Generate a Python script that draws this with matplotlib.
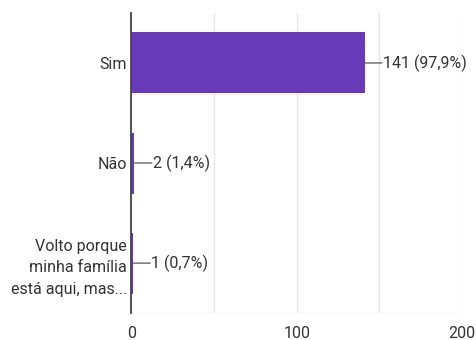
import matplotlib.pyplot as plt
from matplotlib.ticker import MultipleLocator

plt.rcParams['font.family'] = ['Roboto', 'DejaVu Sans']

### === Data ===
categories = ["Sim", "Não", "Volto porque\nminha família\nestá aqui, mas..."]
counts = [141, 2, 1]
labels = ["141 (97,9%)", "2 (1,4%)", "1 (0,7%)"]

bar_color = "#673ab7"
text_color = "#333333"

### === Plot ===
fig = plt.figure(figsize=(4.77, 3.4), dpi=100)
ax = fig.add_axes([0.275, 0.079, 0.694, 0.883])

y_pos = list(range(len(categories)))
ax.barh(y_pos, counts, height=0.61, color=bar_color, zorder=3)
ax.set_ylim(len(categories) - 0.5, -0.5)
ax.set_xlim(0, 200)

ax.set_yticks(y_pos)
ax.set_yticklabels(categories, fontsize=11.5, color=text_color, linespacing=1.55)
ax.set_xticks([0, 100, 200])
ax.xaxis.set_minor_locator(MultipleLocator(50))
ax.tick_params(axis="x", labelsize=11.5, labelcolor=text_color, length=0, pad=9)
ax.tick_params(axis="x", which="minor", length=0)
ax.tick_params(axis="y", length=0, pad=3)

ax.grid(axis="x", which="both", color="#e6e6e6", linewidth=1, zorder=0)
for side in ["top", "right", "bottom"]:
    ax.spines[side].set_visible(False)
ax.spines["left"].set_color("#444444")
ax.spines["left"].set_linewidth(1.3)
ax.spines["left"].set_zorder(4)
ax.axhline(len(categories) - 0.5, color="#e6e6e6", linewidth=1, zorder=0)

# data labels with short leader line (line touches the text)
off = 12.5
for y, v, lab in zip(y_pos, counts, labels):
    ax.annotate("", xy=(v, y), xytext=(off, 0), textcoords="offset points",
                arrowprops=dict(arrowstyle="-", color="#555555", lw=0.9,
                                shrinkA=0, shrinkB=0))
    ax.annotate(lab, xy=(v, y), xytext=(off + 0.5, 0), textcoords="offset points",
                ha="left", va="center", fontsize=11.5, color=text_color)

fig.savefig("out.png", dpi=100)
